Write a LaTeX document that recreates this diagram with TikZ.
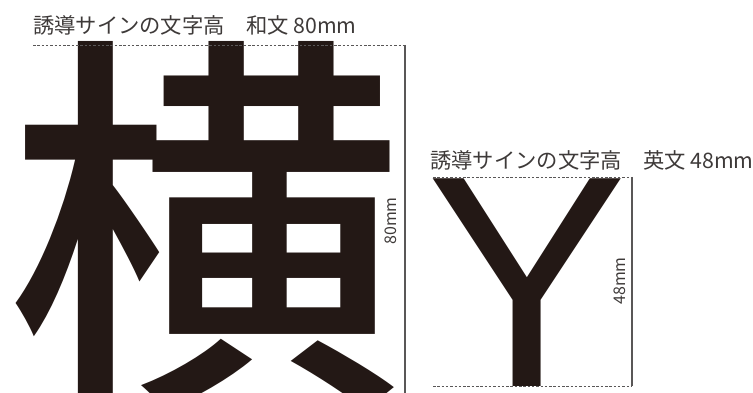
\documentclass[tikz,border=0pt]{standalone}
\usepackage{fontspec}
\newfontfamily\jpfont{Noto Sans CJK JP}
\newfontfamily\jpmed{Noto Sans CJK JP Medium}
\newfontfamily\latinfont{Liberation Sans}
\definecolor{ink}{HTML}{231815}
\definecolor{txt}{HTML}{3E3A39}
\definecolor{rule}{HTML}{595757}
\tikzset{
  lbl/.style={inner sep=0pt, anchor=base west, text=txt, font=\jpfont\fontsize{21.3}{21.3}\selectfont},
  dim/.style={inner sep=0pt, text=txt, rotate=90, font=\jpfont\fontsize{16}{16}\selectfont},
  big/.style={inner sep=0pt, anchor=base west, text=ink},
  guide/.style={draw=rule, line width=0.8pt, dash pattern=on 2.5pt off 1.8pt},
  vline/.style={draw=rule, line width=1.2pt}
}
\begin{document}
\begin{tikzpicture}[x=1pt,y=-1pt]
\useasboundingbox (0,0) rectangle (753,393);
\clip (0,0) rectangle (753,393);
% kanji
\node[big, font=\jpmed\fontsize{397}{397}\selectfont] (kanji) at (6,376) {横};
\node[lbl] (label1) at (33,34) {誘導サインの文字高　和文 80mm};
\coordinate (k1) at (33,45);
\coordinate (k2) at (405,45);
\coordinate (k3) at (405,393);
\draw[guide] (k1) -- (k2);
\draw[vline] (k2) -- (k3);
\node[dim] (d80) at (391,221) {80mm};
% Y
\node[big, font=\latinfont\fontsize{302}{302}\selectfont] (ylet) at (426.5,386) {Y};
\node[lbl] (label2) at (430,169) {誘導サインの文字高　英文 48mm};
\coordinate (y1) at (433,177);
\coordinate (y2) at (632,177);
\coordinate (y3) at (632,386);
\coordinate (y4) at (433,386);
\draw[guide] (y1) -- (y2);
\draw[vline] (y2) -- (y3);
\draw[guide] (y4) -- (y3);
\node[dim] (d48) at (620,281) {48mm};
\end{tikzpicture}
\end{document}
